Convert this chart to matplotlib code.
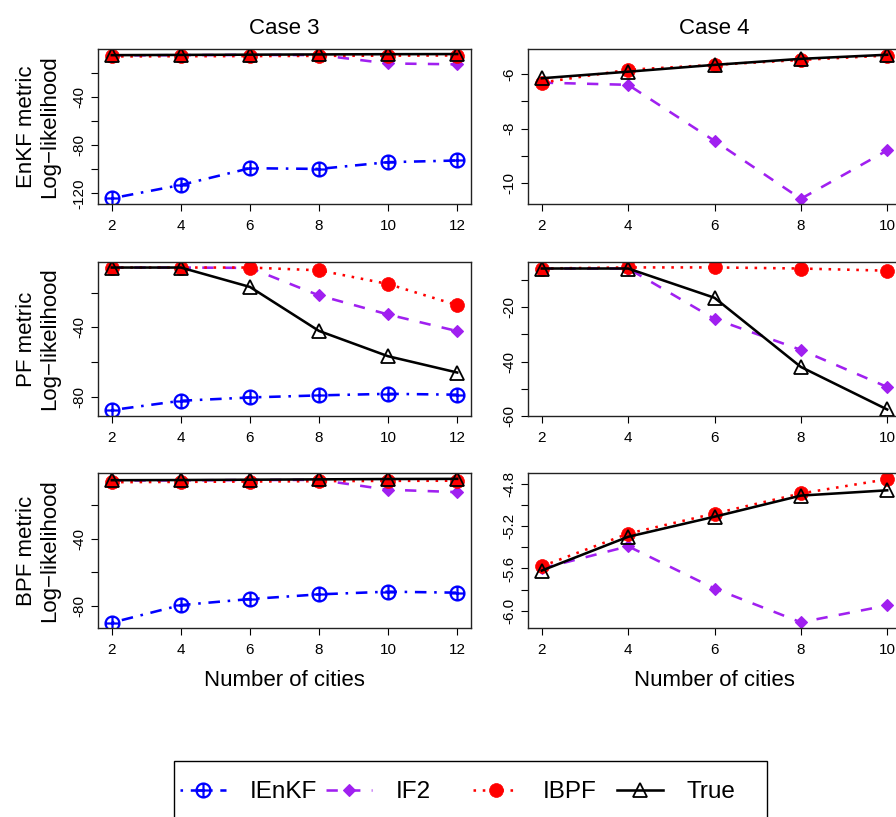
import matplotlib
matplotlib.use("Agg")
import matplotlib.pyplot as plt
from matplotlib.path import Path
from matplotlib.lines import Line2D
from matplotlib.patches import Rectangle

plt.rcParams['font.family'] = ['Liberation Sans', 'DejaVu Sans']

# ---------------- data ----------------
cities_case3 = [2, 4, 6, 8, 10, 12]
cities_case4 = [2, 4, 6, 8, 10]

# Case 3, EnKF metric
c3_enkf_ienkf = [-124.2, -113.1, -99.2, -99.8, -94.2, -92.8]
c3_enkf_if2 = [-5.6, -5.4, -5.2, -5.3, -12.3, -13.0]
c3_enkf_ibpf = [-6.5, -6.3, -6.2, -6.0, -5.8, -5.7]
c3_enkf_true = [-5.4, -5.2, -5.0, -4.8, -4.6, -4.5]

# Case 4, EnKF metric
c4_enkf_if2 = [-6.32, -6.40, -8.45, -10.57, -8.80]
c4_enkf_ibpf = [-6.32, -5.85, -5.67, -5.49, -5.33]
c4_enkf_true = [-6.16, -5.92, -5.67, -5.45, -5.30]

# Case 3, PF metric
c3_pf_ienkf = [-87.7, -82.3, -80.4, -79.2, -78.3, -78.8]
c3_pf_if2 = [-5.4, -5.4, -5.6, -21.5, -32.5, -42.1]
c3_pf_ibpf = [-5.4, -5.4, -5.4, -7.0, -14.9, -27.1]
c3_pf_true = [-5.4, -5.4, -16.6, -42.0, -56.6, -66.0]

# Case 4, PF metric
c4_pf_if2 = [-5.7, -5.7, -24.3, -35.7, -49.4]
c4_pf_ibpf = [-5.7, -5.3, -5.3, -5.7, -6.5]
c4_pf_true = [-5.7, -5.7, -16.5, -42.0, -57.7]

# Case 3, BPF metric
c3_bpf_ienkf = [-90.1, -79.6, -76.0, -73.2, -71.6, -72.2]
c3_bpf_if2 = [-5.2, -5.1, -4.9, -4.8, -10.7, -12.1]
c3_bpf_ibpf = [-6.2, -6.0, -5.8, -5.6, -5.4, -5.3]
c3_bpf_true = [-5.0, -4.9, -4.7, -4.5, -4.3, -4.2]

# Case 4, BPF metric
c4_bpf_if2 = [-5.60, -5.39, -5.79, -6.11, -5.95]
c4_bpf_ibpf = [-5.58, -5.27, -5.08, -4.89, -4.755]
c4_bpf_true = [-5.62, -5.30, -5.11, -4.91, -4.86]

col_titles = ["Case 3", "Case 4"]
row_labels = ["EnKF metric", "PF metric", "BPF metric"]
series_names = ["IEnKF", "IF2", "IBPF", "True"]
xlabel = "Number of cities"
ylabel = "Log\u2212likelihood"

# y ticks (positions, labels shown)
yt = {
    (0, 0): ([-20, -40, -60, -80, -100, -120], ["", "-40", "", "-80", "", "-120"]),
    (0, 1): ([-6, -7, -8, -9, -10], ["-6", "", "-8", "", "-10"]),
    (1, 0): ([-20, -40, -60, -80], ["", "-40", "", "-80"]),
    (1, 1): ([-10, -20, -30, -40, -50, -60], ["", "-20", "", "-40", "", "-60"]),
    (2, 0): ([-20, -40, -60, -80], ["", "-40", "", "-80"]),
    (2, 1): ([-4.8, -5.0, -5.2, -5.4, -5.6, -5.8, -6.0],
             ["-4.8", "", "-5.2", "", "-5.6", "", "-6.0"]),
}
ylims = {
    (0, 0): (-128.9, -0.3), (0, 1): (-10.76, -5.09),
    (1, 0): (-91.1, -2.2), (1, 1): (-60.1, -3.3),
    (2, 0): (-93.3, -0.7), (2, 1): (-6.164, -4.696),
}

panels = {
    (0, 0): (cities_case3, c3_enkf_ienkf, c3_enkf_if2, c3_enkf_ibpf, c3_enkf_true),
    (0, 1): (cities_case4, None, c4_enkf_if2, c4_enkf_ibpf, c4_enkf_true),
    (1, 0): (cities_case3, c3_pf_ienkf, c3_pf_if2, c3_pf_ibpf, c3_pf_true),
    (1, 1): (cities_case4, None, c4_pf_if2, c4_pf_ibpf, c4_pf_true),
    (2, 0): (cities_case3, c3_bpf_ienkf, c3_bpf_if2, c3_bpf_ibpf, c3_bpf_true),
    (2, 1): (cities_case4, None, c4_bpf_if2, c4_bpf_ibpf, c4_bpf_true),
}

# ---------------- styles ----------------
W, H = 896, 817
circ = Path.unit_circle()
cross = Path([(-1, 0), (1, 0), (0, -1), (0, 1)],
             [Path.MOVETO, Path.LINETO, Path.MOVETO, Path.LINETO])
oplus = Path.make_compound_path(circ, cross)

LW = 1.85
styles = [
    dict(color='#0000FF', lw=LW, dashes=(1.0, 3.0, 4.5, 3.0), marker=oplus,
         ms=10, mfc='none', mec='#0000FF', mew=1.6),
    dict(color='#A020F0', lw=LW, dashes=(4.4, 4.4), marker='D',
         ms=6, mfc='#A020F0', mec='#A020F0', mew=0.8),
    dict(color='#FF0000', lw=LW, dashes=(1.0, 2.6), marker='o',
         ms=10, mfc='#FF0000', mec='#FF0000', mew=0.5),
    dict(color='black', lw=LW, ls='-', marker='^',
         ms=10.5, mfc='none', mec='black', mew=1.3),
]

fig = plt.figure(figsize=(W / 100, H / 100), dpi=100)

col_x = [(98, 471), (528, 901)]
row_y = [(49, 204), (262, 416), (473, 628)]
xlims = [(1.6, 12.4), (1.68, 10.32)]

for (r, c), data in panels.items():
    x0, x1 = col_x[c]
    y0, y1 = row_y[r]
    ax = fig.add_axes([x0 / W, 1 - y1 / H, (x1 - x0) / W, (y1 - y0) / H])
    xs = data[0]
    for s, ys in enumerate(data[1:]):
        if ys is None:
            continue
        ax.plot(xs, ys, **styles[s])
    ax.set_xlim(*xlims[c])
    ax.set_ylim(*ylims[(r, c)])
    ax.set_xticks(xs)
    ax.set_xticklabels([str(v) for v in xs])
    ticks, labs = yt[(r, c)]
    ax.set_yticks(ticks)
    ax.set_yticklabels(labs, rotation=90, va='center')
    ax.tick_params(direction='out', length=5, width=0.8, labelsize=11,
                   color='black')
    ax.tick_params(axis='x', pad=6.0)
    ax.tick_params(axis='y', pad=3.5)
    for sp in ax.spines.values():
        sp.set_linewidth(1.0)
        sp.set_color('#222222')

# column titles and x labels
for c in range(2):
    x0, x1 = col_x[c]
    fig.text((x0 + x1) / 2 / W, 1 - 34 / H, col_titles[c], ha='center',
             va='baseline', fontsize=16)
    fig.text((x0 + x1) / 2 / W, 1 - 686 / H, xlabel, ha='center',
             va='baseline', fontsize=16)

# row labels
for r in range(3):
    y0, y1 = row_y[r]
    yc = 1 - (y0 + y1) / 2 / H
    fig.text(37 / W, yc, row_labels[r], rotation=90, ha='right',
             va='center', fontsize=16)
    fig.text(60 / W, yc, ylabel, rotation=90, ha='right',
             va='center', fontsize=16)

# legend
fig.patches.append(Rectangle((174 / W, 1 - 840 / H), (767 - 174) / W,
                             (840 - 761) / H, transform=fig.transFigure,
                             fill=False, lw=1.0, ec='black'))
leg_x = [180, 326, 473, 617]
for i, name in enumerate(series_names):
    h = Line2D([], [], **styles[i])
    fig.legend(handles=[h], labels=[name], loc='center left',
               bbox_to_anchor=(leg_x[i] / W, 1 - 792 / H),
               frameon=False, fontsize=17.5, handlelength=1.9,
               handletextpad=0.95, borderpad=0, borderaxespad=0,
               numpoints=1)

fig.savefig("out.png", dpi=100)
